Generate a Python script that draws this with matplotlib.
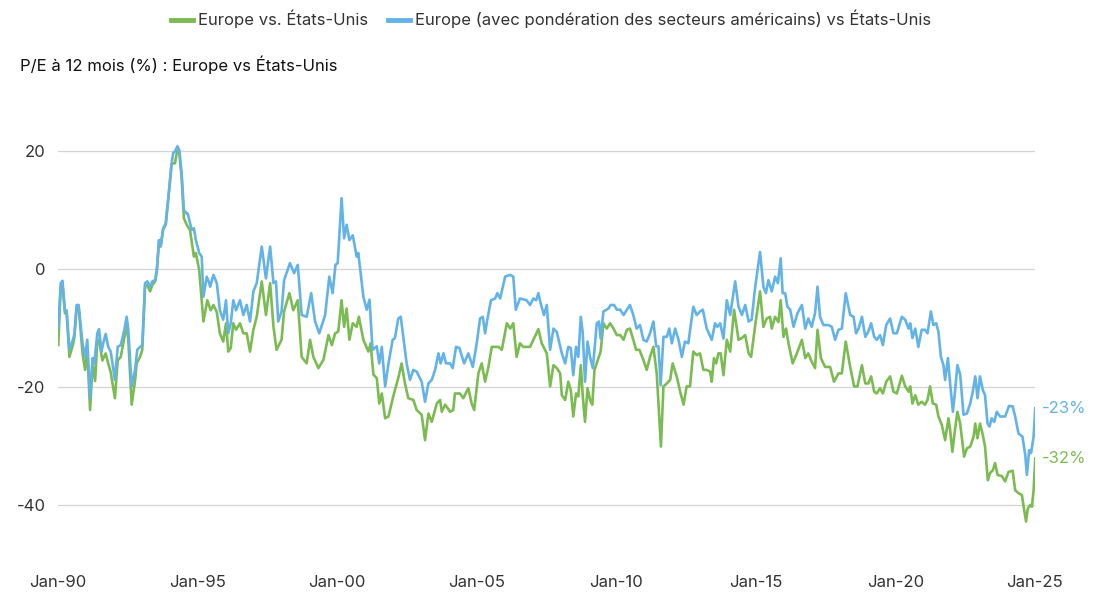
import matplotlib.pyplot as plt
import numpy as np

plt.rcParams['font.family'] = ['Inter', 'DejaVu Sans']
plt.rcParams['axes.unicode_minus'] = False

# data (decimal years, %)
blue_dates = [
    1990.01, 1990.10, 1990.16, 1990.25, 1990.31, 1990.41, 1990.55, 1990.59, 1990.67, 1990.74,
    1990.88, 1990.97, 1991.05, 1991.15, 1991.24, 1991.30, 1991.41, 1991.47, 1991.56, 1991.62,
    1991.71, 1991.80, 1991.89, 1992.04, 1992.14, 1992.25, 1992.38, 1992.46, 1992.52, 1992.64,
    1992.76, 1992.84, 1992.94, 1993.02, 1993.12, 1993.20, 1993.30, 1993.38, 1993.48, 1993.54,
    1993.62, 1993.68, 1993.77, 1993.86, 1993.98, 1994.07, 1994.13, 1994.19, 1994.28, 1994.35,
    1994.43, 1994.51, 1994.61, 1994.65, 1994.79, 1994.87, 1994.94, 1995.06, 1995.15, 1995.21,
    1995.33, 1995.42, 1995.45, 1995.57, 1995.69, 1995.80, 1995.92, 1996.02, 1996.10, 1996.19,
    1996.28, 1996.38, 1996.52, 1996.64, 1996.76, 1996.88, 1997.00, 1997.12, 1997.30, 1997.45,
    1997.60, 1997.72, 1997.81, 1997.89, 1998.01, 1998.10, 1998.31, 1998.46, 1998.59, 1998.73,
    1998.91, 1999.07, 1999.21, 1999.36, 1999.57, 1999.72, 1999.84, 1999.94, 2000.02, 2000.16,
    2000.25, 2000.34, 2000.44, 2000.56, 2000.70, 2000.76, 2000.94, 2001.06, 2001.16, 2001.27,
    2001.42, 2001.51, 2001.60, 2001.72, 2001.84, 2001.99, 2002.07, 2002.19, 2002.28, 2002.37,
    2002.49, 2002.61, 2002.73, 2002.85, 2003.03, 2003.15, 2003.27, 2003.39, 2003.51, 2003.63,
    2003.71, 2003.81, 2003.90, 2004.05, 2004.14, 2004.26, 2004.38, 2004.55, 2004.70, 2004.86,
    2005.00, 2005.12, 2005.22, 2005.30, 2005.38, 2005.51, 2005.66, 2005.74, 2005.84, 2006.02,
    2006.20, 2006.31, 2006.40, 2006.55, 2006.79, 2006.91, 2007.03, 2007.13, 2007.21, 2007.29,
    2007.41, 2007.51, 2007.63, 2007.75, 2007.87, 2008.05, 2008.17, 2008.28, 2008.37, 2008.46,
    2008.56, 2008.64, 2008.73, 2008.80, 2008.88, 2008.97, 2009.06, 2009.16, 2009.24, 2009.30,
    2009.38, 2009.44, 2009.54, 2009.72, 2009.80, 2009.92, 2010.02, 2010.14, 2010.26, 2010.38,
    2010.49, 2010.61, 2010.73, 2010.85, 2010.97, 2011.09, 2011.21, 2011.33, 2011.43, 2011.51,
    2011.59, 2011.69, 2011.81, 2011.90, 2011.99, 2012.11, 2012.23, 2012.35, 2012.46, 2012.58,
    2012.76, 2012.88, 2013.00, 2013.10, 2013.24, 2013.42, 2013.54, 2013.62, 2013.72, 2013.84,
    2013.96, 2014.08, 2014.26, 2014.38, 2014.50, 2014.62, 2014.74, 2014.85, 2014.97, 2015.15,
    2015.27, 2015.36, 2015.45, 2015.57, 2015.69, 2015.79, 2015.89, 2015.96, 2016.05, 2016.13,
    2016.23, 2016.35, 2016.49, 2016.65, 2016.77, 2016.88, 2017.00, 2017.12, 2017.21, 2017.30,
    2017.42, 2017.60, 2017.72, 2017.84, 2017.96, 2018.08, 2018.22, 2018.38, 2018.50, 2018.59,
    2018.68, 2018.80, 2018.92, 2019.03, 2019.13, 2019.24, 2019.33, 2019.45, 2019.55, 2019.67,
    2019.81, 2019.93, 2020.05, 2020.23, 2020.35, 2020.47, 2020.53, 2020.61, 2020.71, 2020.82,
    2020.94, 2021.06, 2021.15, 2021.27, 2021.36, 2021.46, 2021.54, 2021.63, 2021.72, 2021.78,
    2021.88, 2021.96, 2022.06, 2022.14, 2022.22, 2022.32, 2022.44, 2022.56, 2022.68, 2022.77,
    2022.86, 2022.94, 2023.03, 2023.13, 2023.21, 2023.30, 2023.37, 2023.45, 2023.54, 2023.63,
    2023.75, 2023.93, 2024.07, 2024.20, 2024.29, 2024.41, 2024.55, 2024.65, 2024.71, 2024.79,
    2024.86, 2024.95, 2025.01]
blue_vals = [
    -9.8, -2.4, -2.0, -7.0, -7.0, -13.7, -11.8, -10.9, -6.1, -6.1,
    -12.6, -14.9, -12.0, -21.9, -15.1, -16.0, -10.9, -10.2, -14.0, -12.6,
    -11.0, -13.2, -14.0, -18.8, -13.2, -12.9, -10.3, -8.1, -10.3, -19.9,
    -17.1, -13.7, -13.2, -12.9, -2.4, -2.1, -3.0, -2.1, -1.9, -0.2,
    4.9, 4.0, 6.9, 7.7, 13.4, 17.9, 19.7, 19.9, 20.8, 20.1,
    16.2, 10.0, 9.4, 9.4, 6.6, 6.9, 4.9, 2.7, 2.1, -4.7,
    -1.3, -2.4, -3.0, -1.0, -2.4, -7.0, -8.6, -5.3, -10.9, -9.2,
    -5.3, -7.0, -5.3, -7.8, -6.1, -8.9, -3.8, -2.4, 3.8, -1.6,
    3.8, -2.4, -2.1, -8.9, -7.2, -1.9, 1.0, -0.7, 0.7, -7.8,
    -8.1, -4.1, -8.9, -10.9, -7.8, -1.3, -4.1, 0.7, 1.0, 12.0,
    5.2, 7.5, 4.9, 5.7, 2.1, 2.7, -4.7, -6.9, -5.2, -13.7,
    -13.1, -16.0, -13.2, -19.9, -16.0, -12.0, -11.7, -8.4, -8.1, -11.5,
    -16.0, -18.8, -17.1, -17.4, -19.1, -22.5, -19.4, -18.8, -17.1, -14.3,
    -16.0, -14.3, -16.0, -16.0, -16.8, -13.2, -13.4, -16.0, -14.3, -16.6,
    -12.6, -8.4, -8.1, -10.9, -8.6, -5.3, -5.0, -4.1, -5.0, -1.3,
    -1.0, -1.3, -6.9, -5.0, -5.3, -6.1, -5.0, -5.3, -4.1, -5.8,
    -7.8, -6.1, -13.7, -10.1, -10.7, -14.3, -16.0, -13.2, -13.4, -18.0,
    -13.2, -14.9, -8.1, -10.9, -19.1, -12.3, -14.9, -16.8, -12.6, -9.2,
    -8.9, -11.8, -7.2, -6.7, -6.1, -6.1, -6.9, -6.9, -7.8, -6.9,
    -6.1, -7.8, -10.1, -9.5, -12.0, -12.3, -10.9, -8.9, -13.1, -13.1,
    -19.7, -11.5, -11.5, -10.1, -12.6, -10.1, -12.0, -14.9, -12.3, -12.6,
    -6.4, -7.8, -7.2, -6.9, -10.1, -12.0, -9.2, -9.8, -9.2, -11.8,
    -5.3, -7.8, -2.1, -6.4, -7.8, -6.1, -8.9, -8.6, -3.3, 2.9,
    -3.0, -4.1, -1.9, -3.8, -1.3, -2.4, 1.8, -4.1, -4.1, -6.4,
    -6.9, -9.8, -7.5, -6.1, -10.1, -8.4, -9.8, -7.5, -3.0, -8.1,
    -9.5, -9.5, -9.8, -12.0, -10.3, -10.1, -4.1, -7.8, -8.1, -10.9,
    -10.1, -8.1, -11.5, -10.6, -9.2, -11.5, -12.0, -11.2, -12.9, -9.5,
    -8.4, -10.9, -10.9, -8.1, -8.6, -10.1, -9.2, -11.7, -10.1, -13.2,
    -10.3, -10.3, -10.9, -7.2, -9.5, -9.2, -10.6, -14.9, -16.3, -18.8,
    -15.1, -19.4, -24.2, -20.5, -16.3, -17.9, -24.7, -24.5, -22.8, -20.8,
    -18.2, -21.9, -18.2, -20.5, -21.4, -26.2, -26.7, -25.3, -25.9, -24.2,
    -25.0, -25.0, -23.2, -23.3, -25.0, -27.9, -28.4, -31.5, -34.9, -30.7,
    -31.2, -28.4, -23.6]

green_dates = [
    1990.01, 1990.10, 1990.16, 1990.25, 1990.31, 1990.41, 1990.55, 1990.59, 1990.67, 1990.74,
    1990.88, 1990.97, 1991.05, 1991.15, 1991.24, 1991.33, 1991.41, 1991.47, 1991.59, 1991.71,
    1991.80, 1991.89, 1992.04, 1992.14, 1992.25, 1992.38, 1992.46, 1992.52, 1992.64, 1992.76,
    1992.82, 1992.94, 1993.02, 1993.12, 1993.20, 1993.30, 1993.38, 1993.48, 1993.54, 1993.62,
    1993.68, 1993.77, 1993.86, 1993.98, 1994.07, 1994.13, 1994.19, 1994.28, 1994.35, 1994.43,
    1994.51, 1994.61, 1994.73, 1994.87, 1994.94, 1995.06, 1995.21, 1995.35, 1995.47, 1995.57,
    1995.69, 1995.80, 1995.92, 1996.02, 1996.10, 1996.19, 1996.28, 1996.38, 1996.52, 1996.64,
    1996.76, 1996.88, 1997.00, 1997.12, 1997.30, 1997.45, 1997.60, 1997.72, 1997.83, 1998.01,
    1998.10, 1998.29, 1998.43, 1998.59, 1998.73, 1998.91, 1999.03, 1999.15, 1999.33, 1999.51,
    1999.69, 1999.81, 1999.93, 2000.04, 2000.16, 2000.25, 2000.34, 2000.44, 2000.56, 2000.70,
    2000.78, 2000.94, 2001.12, 2001.20, 2001.30, 2001.42, 2001.51, 2001.60, 2001.72, 2001.84,
    2002.01, 2002.19, 2002.31, 2002.43, 2002.55, 2002.73, 2002.85, 2003.03, 2003.15, 2003.27,
    2003.39, 2003.57, 2003.69, 2003.75, 2003.87, 2004.05, 2004.16, 2004.22, 2004.40, 2004.52,
    2004.70, 2004.82, 2004.91, 2005.06, 2005.18, 2005.30, 2005.42, 2005.54, 2005.78, 2005.90,
    2006.08, 2006.20, 2006.31, 2006.43, 2006.55, 2006.67, 2006.91, 2007.03, 2007.21, 2007.33,
    2007.51, 2007.63, 2007.75, 2007.87, 2007.99, 2008.05, 2008.17, 2008.28, 2008.37, 2008.46,
    2008.56, 2008.64, 2008.73, 2008.80, 2008.88, 2008.97, 2009.06, 2009.14, 2009.22, 2009.44,
    2009.54, 2009.66, 2009.78, 2009.90, 2010.02, 2010.14, 2010.26, 2010.38, 2010.49, 2010.61,
    2010.71, 2010.83, 2010.97, 2011.09, 2011.21, 2011.33, 2011.45, 2011.60, 2011.69, 2011.81,
    2011.93, 2012.02, 2012.17, 2012.29, 2012.41, 2012.52, 2012.64, 2012.76, 2012.88, 2013.00,
    2013.12, 2013.24, 2013.36, 2013.42, 2013.50, 2013.58, 2013.66, 2013.74, 2013.84, 2013.96,
    2014.08, 2014.22, 2014.38, 2014.50, 2014.62, 2014.74, 2014.83, 2014.97, 2015.15, 2015.27,
    2015.39, 2015.51, 2015.57, 2015.69, 2015.81, 2015.89, 2015.99, 2016.08, 2016.17, 2016.32,
    2016.47, 2016.65, 2016.77, 2016.88, 2017.00, 2017.12, 2017.21, 2017.33, 2017.48, 2017.66,
    2017.80, 2017.96, 2018.08, 2018.22, 2018.38, 2018.52, 2018.64, 2018.80, 2018.92, 2019.03,
    2019.13, 2019.24, 2019.33, 2019.45, 2019.55, 2019.67, 2019.81, 2019.93, 2020.05, 2020.23,
    2020.35, 2020.47, 2020.53, 2020.61, 2020.71, 2020.82, 2020.94, 2021.06, 2021.15, 2021.24,
    2021.34, 2021.46, 2021.54, 2021.66, 2021.78, 2021.90, 2021.96, 2022.04, 2022.14, 2022.22,
    2022.32, 2022.46, 2022.56, 2022.68, 2022.80, 2022.86, 2022.94, 2023.03, 2023.13, 2023.21,
    2023.31, 2023.39, 2023.49, 2023.57, 2023.66, 2023.81, 2023.93, 2024.05, 2024.20, 2024.29,
    2024.41, 2024.53, 2024.61, 2024.68, 2024.74, 2024.83, 2024.89, 2024.95, 2025.01]
green_vals = [
    -12.9, -3.0, -2.4, -7.5, -7.5, -14.9, -12.6, -11.5, -6.4, -6.4,
    -14.3, -17.1, -13.7, -23.9, -16.0, -19.0, -12.0, -12.0, -15.5, -14.3,
    -16.0, -17.5, -21.9, -15.5, -14.9, -11.5, -9.5, -12.0, -23.0, -19.0,
    -16.0, -14.9, -13.7, -3.0, -2.7, -3.8, -2.7, -2.1, -0.5, 4.7,
    3.8, 6.7, 7.5, 13.2, 17.7, 17.9, 17.9, 20.3, 19.5, 15.5,
    8.6, 7.5, 6.6, 2.1, 2.7, -0.2, -8.9, -5.3, -7.0, -6.1,
    -7.3, -10.9, -12.3, -9.2, -14.0, -13.4, -9.2, -10.3, -9.2, -10.9,
    -10.9, -14.0, -10.3, -8.1, -2.1, -7.8, -2.4, -9.8, -13.7, -12.0,
    -7.2, -4.1, -7.0, -5.3, -14.9, -16.0, -12.0, -14.9, -16.8, -15.4,
    -11.2, -12.9, -10.9, -10.6, -5.3, -9.8, -6.7, -12.0, -9.2, -9.8,
    -8.1, -12.0, -14.0, -12.6, -17.9, -18.5, -22.8, -21.1, -25.3, -25.0,
    -21.6, -18.5, -16.0, -19.4, -21.9, -22.2, -23.9, -24.7, -29.0, -24.5,
    -25.9, -22.8, -22.2, -24.2, -23.0, -24.2, -23.9, -21.1, -21.1, -21.9,
    -20.2, -22.8, -23.9, -17.7, -16.0, -19.1, -16.6, -13.2, -13.2, -13.7,
    -9.2, -10.1, -9.2, -14.9, -12.6, -13.2, -13.2, -12.0, -10.2, -12.6,
    -14.3, -19.9, -16.3, -16.8, -17.7, -21.4, -22.2, -19.1, -20.5, -25.0,
    -21.1, -21.6, -16.3, -21.6, -25.9, -20.2, -22.2, -23.0, -17.1, -14.0,
    -9.2, -10.1, -9.2, -10.1, -11.2, -11.2, -12.0, -10.3, -10.1, -12.0,
    -13.7, -13.7, -15.4, -17.1, -14.9, -13.2, -17.7, -30.1, -19.9, -19.4,
    -18.8, -16.0, -18.3, -20.8, -23.0, -19.9, -19.9, -14.0, -14.6, -14.3,
    -17.1, -17.1, -17.4, -19.1, -15.1, -16.0, -14.3, -14.3, -18.0, -12.0,
    -14.0, -6.9, -12.0, -11.7, -11.2, -14.3, -14.9, -9.8, -3.8, -9.8,
    -8.4, -8.1, -10.1, -8.1, -9.0, -5.3, -11.5, -10.1, -12.6, -16.0,
    -14.3, -12.0, -15.1, -14.3, -15.7, -16.8, -10.3, -15.1, -16.6, -16.6,
    -19.1, -17.7, -17.7, -12.3, -16.6, -19.9, -19.9, -16.3, -19.4, -19.4,
    -18.2, -20.8, -21.1, -20.2, -21.1, -19.1, -18.2, -20.8, -21.1, -18.1,
    -19.9, -20.8, -19.9, -22.8, -21.4, -23.0, -22.5, -23.0, -22.2, -19.9,
    -22.8, -23.0, -25.0, -26.4, -29.0, -25.3, -27.3, -31.0, -27.0, -24.2,
    -26.2, -31.8, -30.4, -30.1, -28.4, -26.2, -28.7, -26.2, -28.1, -30.1,
    -35.8, -34.6, -34.1, -32.9, -34.9, -35.1, -36.0, -34.4, -34.2, -37.5,
    -38.0, -38.3, -40.8, -42.8, -40.6, -40.0, -40.3, -37.5, -32.1]

tick_years = [1990, 1995, 2000, 2005, 2010, 2015, 2020, 2025]
tick_labels = ['Jan-90', 'Jan-95', 'Jan-00', 'Jan-05', 'Jan-10', 'Jan-15', 'Jan-20', 'Jan-25']
y_ticks = [-40, -20, 0, 20]
end_labels = ['-32%', '-23%']
names = ['Europe vs. États-Unis', 'Europe (avec pondération des secteurs américains) vs États-Unis']

green = '#7bbb52'
blue = '#63b3e6'
txt = '#333333'
fs = 12

fig = plt.figure(figsize=(11.02, 6), dpi=100)
ax = fig.add_axes([0.0526, 0.06, 0.8866, 0.7867])

l1, = ax.plot(green_dates, green_vals, color=green, lw=1.9, label=names[0], zorder=2)
l2, = ax.plot(blue_dates, blue_vals, color=blue, lw=1.9, label=names[1], zorder=3)

ax.set_xlim(1990, 2025)
ax.set_ylim(-50, 30)
ax.set_xticks(tick_years)
ax.set_xticklabels(tick_labels)
ax.set_yticks(y_ticks)
ax.set_yticklabels([str(v) for v in y_ticks])
ax.tick_params(axis='both', length=0, labelsize=fs, colors=txt)
ax.tick_params(axis='x', pad=8)
ax.tick_params(axis='y', pad=9)
ax.grid(axis='y', color='#d4d4d4', lw=0.9)
ax.set_axisbelow(True)
for s in ax.spines.values():
    s.set_visible(False)

# end labels
ax.annotate(end_labels[0], xy=(green_dates[-1], green_vals[-1]), xytext=(5, 0),
            textcoords='offset points', va='center', ha='left', color=green, fontsize=fs)
ax.annotate(end_labels[1], xy=(blue_dates[-1], blue_vals[-1]), xytext=(5, 0),
            textcoords='offset points', va='center', ha='left', color=blue, fontsize=fs)

fig.text(0.018, 0.892, 'P/E à 12 mois (%) : Europe vs États-Unis', fontsize=fs,
         color='#111111', va='center', ha='left')

fig.legend(handles=[l1, l2], loc='center', bbox_to_anchor=(0.5, 0.968), ncol=2,
           frameon=False, fontsize=fs, handlelength=1.3, handletextpad=0.3,
           columnspacing=1.2, labelcolor=txt)
for h in fig.legends[0].legend_handles:
    h.set_linewidth(3.5)

fig.savefig('out.png', dpi=100)
